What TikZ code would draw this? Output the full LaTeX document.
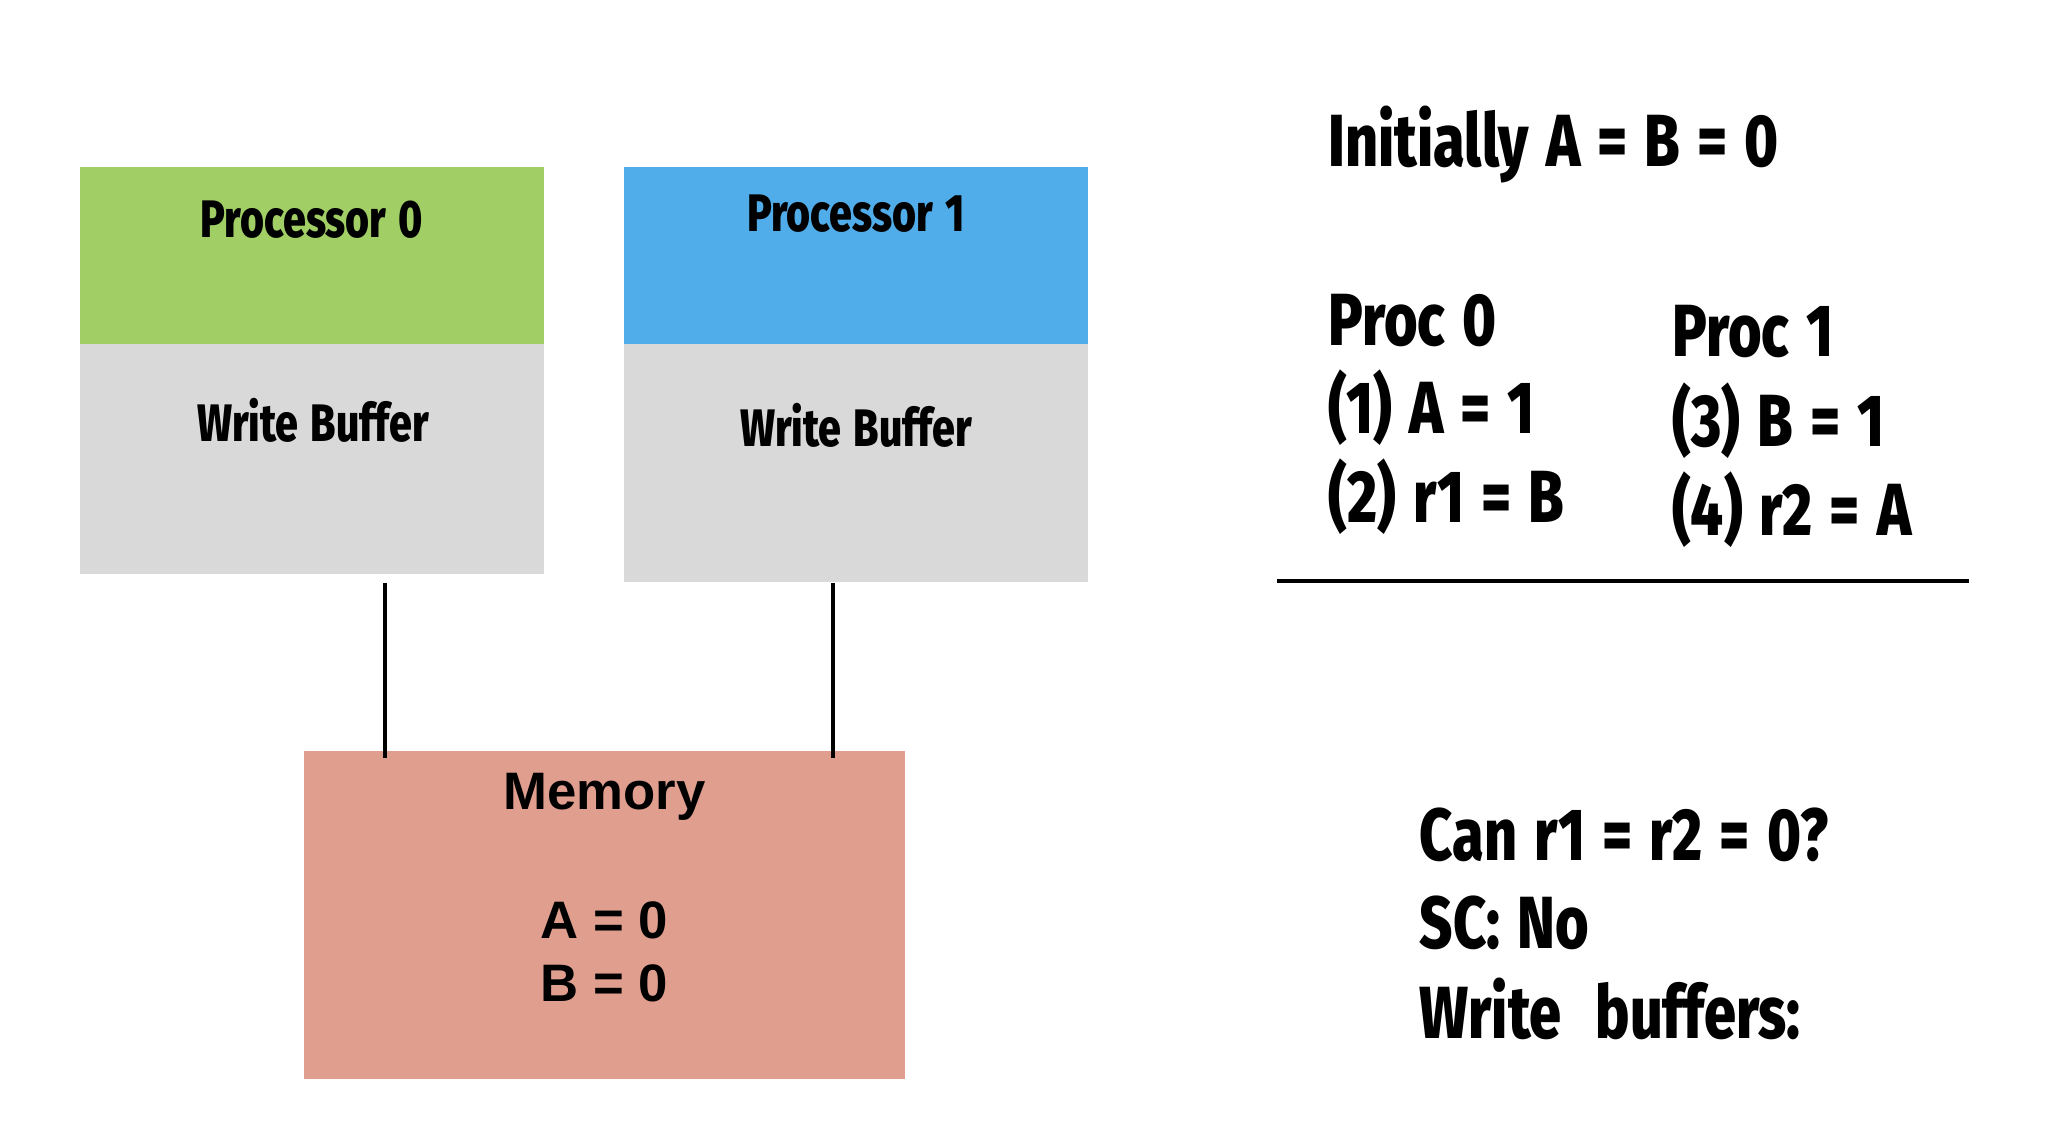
\documentclass[tikz,border=0pt]{standalone}
\usepackage{fontspec}
\setmainfont{Liberation Sans}
\newfontfamily\condfont{Fira Sans}[FakeStretch=0.78,WordSpace=1.3,BoldFont={Fira Sans ExtraBold}]
\usepackage{tikz}
\usetikzlibrary{positioning,calc}
\definecolor{ink}{HTML}{000000}
\definecolor{leaf}{HTML}{A1CF65}
\definecolor{sky}{HTML}{50ADEA}
\definecolor{fog}{HTML}{D9D9D9}
\definecolor{salmon}{HTML}{E09E8F}
\colorlet{p0col}{leaf}
\colorlet{p1col}{sky}
\colorlet{bufcol}{fog}
\colorlet{memcol}{salmon}
\tikzset{
  unit/.style={inner sep=0pt,outer sep=0pt,minimum width=4.64cm,anchor=north west},
  cond/.style={inner sep=0pt,anchor=base,text=ink,font=\condfont\bfseries\fontsize{15}{18}\selectfont},
  big/.style={inner sep=0pt,anchor=base west,text=ink,font=\condfont\bfseries\fontsize{21}{25}\selectfont},
  memtxt/.style={inner sep=0pt,anchor=base,text=ink,font=\bfseries\fontsize{15}{18}\selectfont},
  wire/.style={ink,line width=1.1pt}
}
\begin{document}
\begin{tikzpicture}[x=1cm,y=-1cm]
    \useasboundingbox (0,0) rectangle (20.56,11.20);
    % processors and their buffers
    \node[unit,fill=p0col,minimum height=1.77cm] (proc0) at (0.80,1.665) {};
    \node[unit,fill=bufcol,minimum height=2.305cm] (wb0) at (proc0.south west) {};
    \node[unit,fill=p1col,minimum height=1.77cm] (proc1) at (6.24,1.665) {};
    \node[unit,fill=bufcol,minimum height=2.385cm] (wb1) at (proc1.south west) {};
    \node[unit,fill=memcol,minimum width=6.01cm,minimum height=3.28cm] (mem) at (3.04,7.51) {};
    \node[cond] (proc0txt) at (3.12,2.37) {Processor 0};
    \node[cond] (proc1txt) at (8.56,2.31) {Processor 1};
    \node[cond] (wb0txt) at (3.13,4.41) {Write Buffer};
    \node[cond] (wb1txt) at (8.56,4.46) {Write Buffer};
    \node[memtxt] (memhead) at (6.045,8.09) {Memory};
    \node[memtxt] (memA) at (6.045,9.38) {A = 0};
    \node[memtxt] (memB) at (6.045,10.01) {B = 0};
    % links to memory
    \coordinate (tap0) at ($(wb0.south)+(0.73,0.09)$);
    \coordinate (tap1) at ($(wb1.south)+(-0.23,0.01)$);
    \draw[wire] (tap0) -- ([yshift=-0.07cm]tap0 |- mem.north);
    \draw[wire] (tap1) -- ([yshift=-0.07cm]tap1 |- mem.north);
    % program text
    \node[big] (init) at (13.28,1.66) {Initially A = B = 0};
    \node[big] (p0head) at (13.28,3.45) {Proc 0};
    \node[big] (p0s1) at (13.28,4.33) {(1) A = 1};
    \node[big] (p0s2) at (13.28,5.22) {(2) r1 = B};
    \node[big] (p1head) at (16.72,3.56) {Proc 1};
    \node[big] (p1s3) at (16.72,4.46) {(3) B = 1};
    \node[big] (p1s4) at (16.72,5.35) {(4) r2 = A};
    \coordinate (ruleL) at (12.77,5.81);
    \coordinate (ruleR) at (19.69,5.81);
    \draw[ink,line width=1pt] (ruleL) -- (ruleR);
    \node[big] (ask) at (14.19,8.60) {Can r1 = r2 = 0?};
    \node[big] (scans) at (14.19,9.48) {SC: No};
    \node[big] (wbans) at (14.19,10.38) {Write\ \ buffers:};
\end{tikzpicture}
\end{document}
